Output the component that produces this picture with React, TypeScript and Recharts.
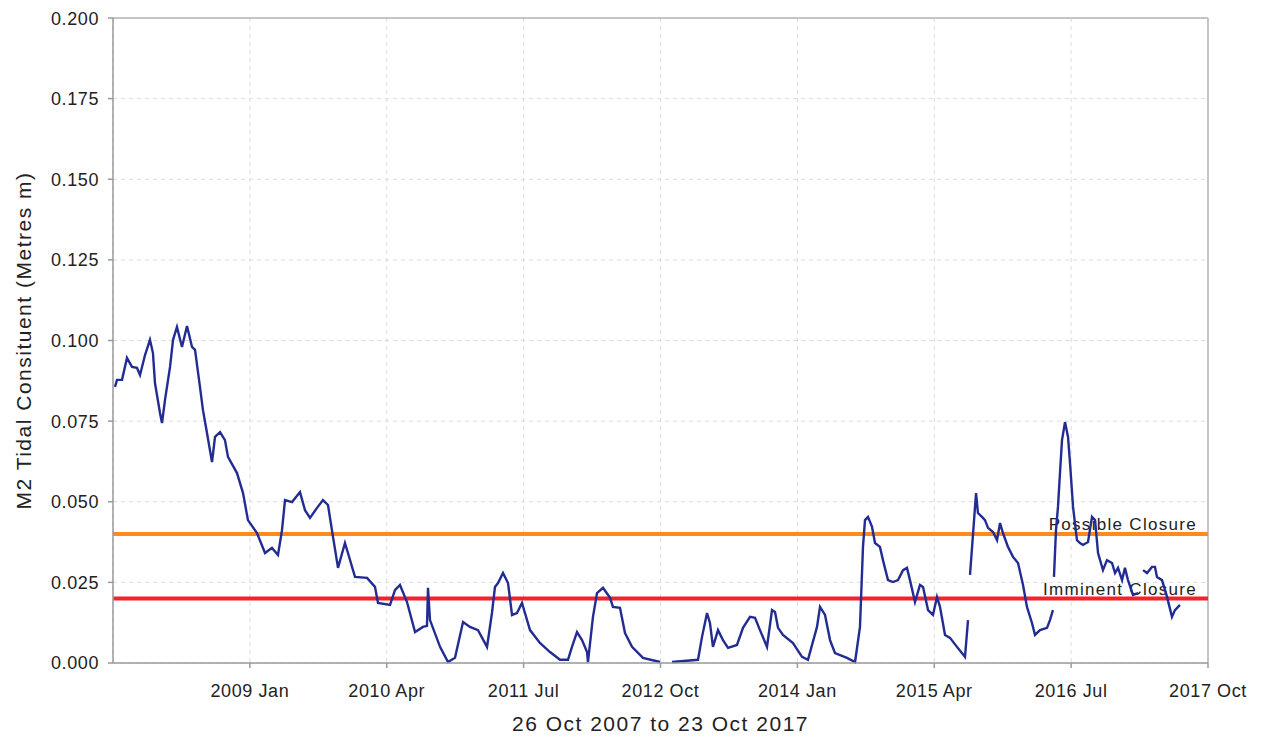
import {
  CartesianGrid,
  Line,
  LineChart,
  ReferenceLine,
  XAxis,
  YAxis,
} from "recharts";

// months since 1 Oct 2007
const months = [
  0.22, 0.44, 0.99, 1.53, 2.08, 2.63, 2.96, 3.51, 4.05, 4.38, 4.6, 5.15, 5.37, 5.7, 6.25, 6.58, 7.01, 7.56,
  8.11, 8.66, 8.99, 9.53, 9.86, 10.3, 10.85, 11.18, 11.73, 12.27, 12.6, 13.59, 14.25, 14.79, 15.78, 16.66,
  17.42, 18.08, 18.52, 18.85, 19.62, 20.49, 21.04, 21.59, 22.36, 23.01, 23.56, 24.11, 24.66, 25.42, 25.75,
  26.52, 27.84, 28.71, 29.04, 30.36, 30.9, 31.45, 32.22, 33.1, 33.97, 34.41, 34.52, 34.74, 35.84, 36.71,
  37.48, 38.36, 39.12, 40.0, 40.99, 41.53, 41.86, 42.19, 42.74, 43.29, 43.73, 44.27, 44.82, 45.7, 46.79,
  47.89, 48.99, 49.86, 50.3, 50.85, 51.4, 51.95, 52.05, 52.6, 53.04, 53.7, 54.47, 54.79, 55.56, 56.11,
  56.88, 58.08, 59.95, 60.6, 61.26, 64.11, 64.55, 65.1, 65.42, 65.75, 66.3, 66.85, 67.4, 68.38, 69.04,
  69.81, 70.36, 70.9, 71.67, 72.22, 72.55, 72.88, 73.42, 74.52, 75.51, 76.16, 77.15, 77.48, 78.03, 78.58,
  79.12, 80.44, 81.32, 81.86, 82.19, 82.41, 82.74, 83.18, 83.51, 84.05, 84.38, 84.93, 85.48, 86.03, 86.58,
  87.01, 87.34, 87.89, 88.44, 88.77, 89.32, 89.86, 90.3, 90.63, 91.18, 91.73, 92.49, 93.37, 93.7, 93.82,
  93.92, 94.58, 94.79, 95.23, 95.56, 95.89, 96.44, 96.88, 97.21, 97.53, 98.08, 98.63, 99.18, 99.73,
  100.16, 100.71, 101.04, 101.59, 102.36, 102.68, 103.01, 103.07, 103.12, 103.34, 103.56, 103.78, 104.0,
  104.33, 104.66, 104.88, 105.21, 105.64, 105.97, 106.3, 106.85, 107.29, 107.62, 107.95, 108.49, 108.93,
  109.48, 109.81, 110.14, 110.58, 110.9, 111.23, 111.78, 112.33, 112.6, 112.88, 113.32, 113.86, 114.19,
  114.41, 114.96, 115.51, 116.05, 116.38, 116.93,
];

const m2 = [
  0.0856, 0.0878, 0.0878, 0.0946, 0.0918, 0.0915, 0.0893, 0.0955, 0.1002, 0.0961, 0.0868, 0.0775, 0.0744,
  0.0816, 0.0918, 0.1002, 0.1042, 0.098, 0.1045, 0.098, 0.0971, 0.0856, 0.0784, 0.0713, 0.0623, 0.0701,
  0.0716, 0.0691, 0.0639, 0.0589, 0.0527, 0.0443, 0.0403, 0.0341, 0.0357, 0.0335, 0.0412, 0.0505, 0.0499,
  0.053, 0.0474, 0.045, 0.0481, 0.0505, 0.049, 0.0391, 0.0295, 0.0372, 0.0341, 0.0267, 0.0264, 0.0236,
  0.0186, 0.018, 0.0226, 0.0242, 0.0189, 0.0096, 0.0112, 0.0115, 0.0233, 0.0133, 0.005, 0.0003, 0.0016,
  0.0127, 0.0112, 0.0102, 0.005, 0.0155, 0.0236, 0.0248, 0.0279, 0.0248, 0.0149, 0.0155, 0.0186, 0.0102,
  0.0062, 0.0034, 0.001, 0.001, 0.005, 0.0096, 0.0071, 0.0034, 0.0003, 0.0143, 0.0217, 0.0233, 0.0202,
  0.0174, 0.0171, 0.0093, 0.005, 0.0016, 0.0003, null, 0.0003, 0.001, 0.0081, 0.0155, 0.0124, 0.005,
  0.0102, 0.0071, 0.0047, 0.0056, 0.0109, 0.0143, 0.014, 0.0102, 0.005, 0.0164, 0.0158, 0.0109, 0.0087,
  0.0062, 0.0019, 0.001, 0.0112, 0.0174, 0.0149, 0.0071, 0.0031, 0.0016, 0.0003, 0.0112, 0.036, 0.0443,
  0.0453, 0.0422, 0.0372, 0.036, 0.0319, 0.0257, 0.0251, 0.0257, 0.0288, 0.0295, 0.0257, 0.0189, 0.0242,
  0.0236, 0.0164, 0.0149, 0.0205, 0.0174, 0.0087, 0.0078, 0.005, 0.0019, 0.0133, null, 0.0273, 0.0527,
  0.0465, 0.0453, 0.0443, 0.0419, 0.0406, 0.0381, 0.0434, 0.0403, 0.036, 0.0329, 0.031, 0.0242, 0.0174,
  0.0124, 0.0087, 0.0102, 0.0109, 0.0133, 0.0164, null, 0.0267, 0.0412, 0.0484, 0.0589, 0.0691, 0.0747,
  0.0701, 0.062, 0.0484, 0.0381, 0.0372, 0.0366, 0.0375, 0.0453, 0.0443, 0.0341, 0.0288, 0.0319, 0.031,
  0.0279, 0.0295, 0.0257, 0.0295, 0.0257, 0.0211, 0.0217, null, 0.0288, 0.0279, 0.0298, 0.0298, 0.0267,
  0.0257, 0.0205, 0.0143, 0.0164, 0.018,
];

const xTicks = [15, 30, 45, 60, 75, 90, 105, 120];
const xTickLabels = ["2009 Jan", "2010 Apr", "2011 Jul", "2012 Oct", "2014 Jan", "2015 Apr", "2016 Jul", "2017 Oct"];
const yTicks = [0, 0.025, 0.05, 0.075, 0.1, 0.125, 0.15, 0.175, 0.2];

const possibleClosure = 0.04;
const imminentClosure = 0.02;

const data = months.map((t, i) => ({ t, m2: m2[i] }));

const font = "'Liberation Sans', Arial, sans-serif";
const axisColor = "#9a9a9a";

const closureLabel = (text: string) => (props: any) => {
  const vb = props.viewBox;
  return (
    <text
      x={vb.x + vb.width - 11}
      y={vb.y - 4}
      textAnchor="end"
      fontFamily={font}
      fontSize={17}
      letterSpacing={1.3}
      fill="#222"
    >
      {text}
    </text>
  );
};

export default function App() {
  return (
    <LineChart
      width={1250}
      height={730}
      data={data}
      margin={{ top: 10, right: 50, bottom: 5, left: 0 }}
      style={{ fontFamily: font }}
    >
      <CartesianGrid stroke="#dcdcdc" strokeDasharray="4 4" />
      <XAxis
        dataKey="t"
        type="number"
        domain={[0, 120]}
        ticks={xTicks}
        tickFormatter={(v: number) => xTickLabels[xTicks.indexOf(v)] ?? ""}
        height={70}
        stroke={axisColor}
        strokeWidth={1.5}
        tickSize={5}
        tickMargin={16}
        tick={{ fill: "#222", fontSize: 18, letterSpacing: 0.6 }}
        label={{
          value: "26 Oct 2007 to 23 Oct 2017",
          position: "insideBottom",
          offset: 2,
          fill: "#222",
          fontSize: 21,
          letterSpacing: 1.5,
        }}
      />
      <YAxis
        type="number"
        domain={[0, 0.2]}
        ticks={yTicks}
        tickFormatter={(v: number) => v.toFixed(3)}
        width={105}
        stroke={axisColor}
        strokeWidth={1.5}
        tickSize={5}
        tickMargin={9}
        tick={{ fill: "#222", fontSize: 18, letterSpacing: 0.6 }}
        label={{
          value: "M2 Tidal Consituent (Metres m)",
          angle: -90,
          position: "insideLeft",
          offset: 16,
          fill: "#222",
          fontSize: 21,
          letterSpacing: 1.5,
          style: { textAnchor: "middle" },
        }}
      />
      <ReferenceLine y={0.2} stroke="#b5b5b5" strokeWidth={1.5} />
      <ReferenceLine x={120} stroke="#b5b5b5" strokeWidth={1.5} />
      <ReferenceLine
        y={possibleClosure}
        stroke="#ff8a1e"
        strokeWidth={4}
        label={closureLabel("Possible Closure")}
      />
      <ReferenceLine
        y={imminentClosure}
        stroke="#f5222d"
        strokeWidth={4}
        label={closureLabel("Imminent Closure")}
      />
      <Line
        type="linear"
        dataKey="m2"
        stroke="#222c92"
        strokeWidth={2.4}
        dot={false}
        connectNulls={false}
        isAnimationActive={false}
      />
    </LineChart>
  );
}
